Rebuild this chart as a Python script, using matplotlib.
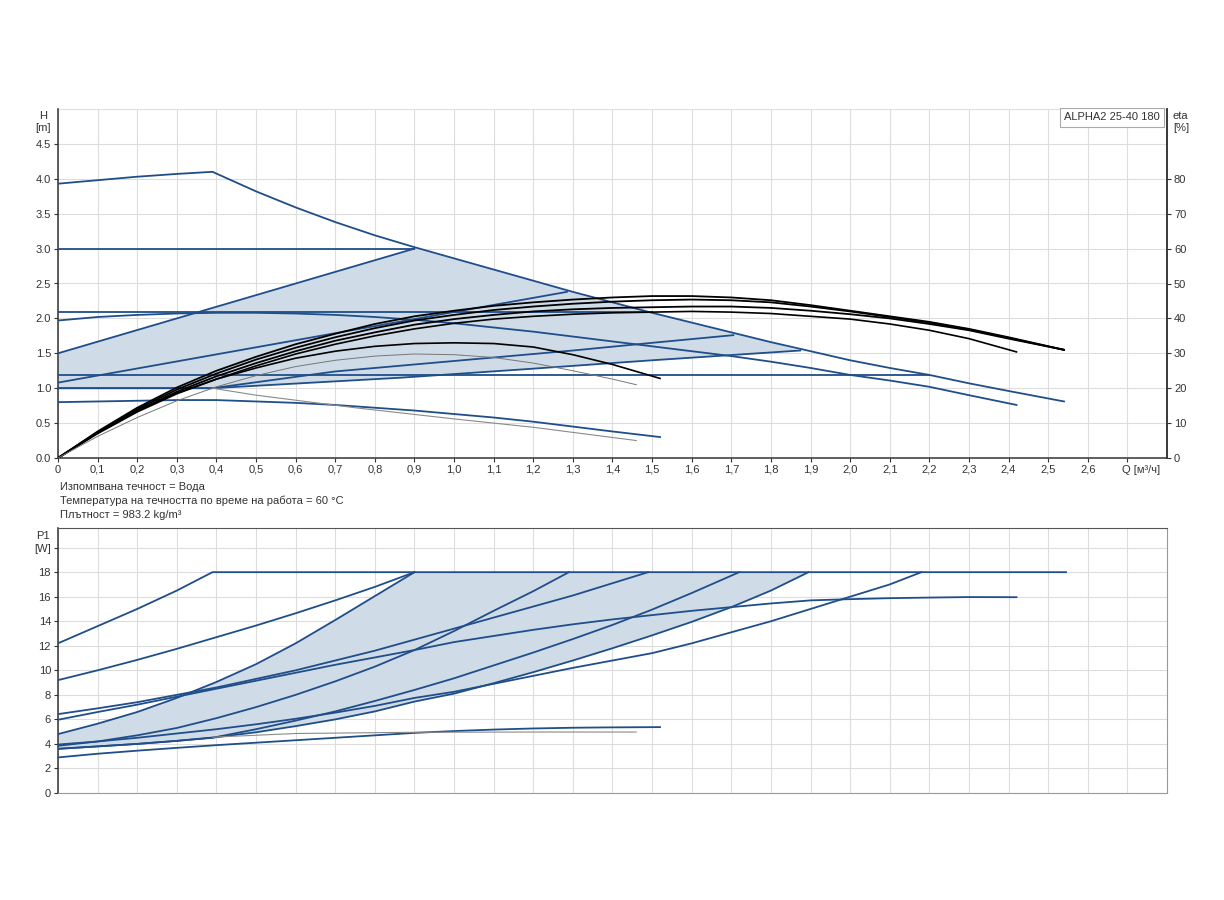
import numpy as np
import matplotlib
matplotlib.use("Agg")
from matplotlib import pyplot as plt

plt.rcParams['font.family'] = ['Liberation Sans', 'DejaVu Sans']
plt.rcParams['font.size'] = 8

BLUE = '#1f4e8a'
FILL = '#cfdbe7'
GRID = '#dddddd'

# --- H(Q) curves, Q in m3/h, H in m ---
q_max = [0, 0.1, 0.2, 0.3, 0.39, 0.5, 0.6, 0.7, 0.8, 0.9, 1.0, 1.1, 1.2, 1.3, 1.4,
         1.5, 1.6, 1.7, 1.8, 1.9, 2.0, 2.1, 2.2, 2.3, 2.4, 2.54]
h_max = [3.93, 3.98, 4.03, 4.07, 4.1, 3.82, 3.59, 3.38, 3.19, 3.02, 2.86, 2.70, 2.54, 2.38, 2.23,
         2.08, 1.94, 1.80, 1.66, 1.53, 1.40, 1.29, 1.19, 1.07, 0.96, 0.81]

q_spd2 = [0, 0.1, 0.2, 0.3, 0.4, 0.5, 0.6, 0.7, 0.8, 0.9, 1.0, 1.1, 1.2, 1.3, 1.4, 1.5,
          1.6, 1.7, 1.8, 1.9, 2.0, 2.1, 2.2, 2.3, 2.42]
h_spd2 = [1.97, 2.02, 2.05, 2.07, 2.08, 2.08, 2.07, 2.05, 2.02, 1.98, 1.93, 1.87, 1.81, 1.74,
          1.67, 1.60, 1.53, 1.46, 1.38, 1.29, 1.19, 1.11, 1.02, 0.90, 0.76]

q_spd1 = [0, 0.1, 0.2, 0.3, 0.4, 0.5, 0.6, 0.7, 0.8, 0.9, 1.0, 1.1, 1.2, 1.3, 1.4, 1.52]
h_spd1 = [0.80, 0.81, 0.82, 0.83, 0.83, 0.81, 0.79, 0.76, 0.72, 0.68, 0.63, 0.58, 0.52,
          0.45, 0.38, 0.30]

q_cp3, h_cp3 = [0, 0.9], [2.99, 2.99]
q_cp2, h_cp2 = [0, 1.5], [2.09, 2.09]
q_cp1, h_cp1 = [0, 2.2], [1.19, 1.19]
q_pp3, h_pp3 = [0, 0.9], [1.5, 3.0]
q_pp2, h_pp2 = [0, 1.285], [1.08, 2.38]
q_pp1 = [0, 0.39, 0.7, 1.0, 1.3, 1.5, 1.705]
h_pp1 = [1.0, 1.0, 1.24, 1.39, 1.54, 1.65, 1.76]
q_aa = [0, 0.39, 0.864, 1.2, 1.5, 1.874]
h_aa = [1.0, 1.0, 1.15, 1.28, 1.40, 1.54]
q_night = [0.39, 0.5, 0.75, 1.0, 1.2, 1.46]
h_night = [1.0, 0.9, 0.72, 0.56, 0.44, 0.25]

# --- efficiency curves, drawn in H units (eta = 20 * H) ---
q_eta = [0, 0.1, 0.2, 0.3, 0.4, 0.5, 0.6, 0.7, 0.8, 0.9, 1.0, 1.1, 1.2, 1.3, 1.4, 1.5,
         1.6, 1.7, 1.8, 1.9, 2.0, 2.1, 2.2, 2.3, 2.4, 2.54]
eta_a = [0, 0.38, 0.72, 1.01, 1.25, 1.45, 1.63, 1.78, 1.92, 2.03, 2.11, 2.18, 2.23, 2.27, 2.30,
         2.32, 2.32, 2.30, 2.26, 2.19, 2.11, 2.03, 1.95, 1.85, 1.73, 1.55]
eta_b = [0, 0.37, 0.70, 0.98, 1.21, 1.41, 1.58, 1.73, 1.86, 1.97, 2.05, 2.12, 2.17, 2.21, 2.24,
         2.26, 2.27, 2.26, 2.23, 2.17, 2.10, 2.02, 1.94, 1.84, 1.72, 1.55]
eta_c = [0, 0.36, 0.68, 0.95, 1.17, 1.36, 1.53, 1.68, 1.80, 1.91, 1.99, 2.05, 2.10, 2.13, 2.15,
         2.16, 2.17, 2.17, 2.15, 2.11, 2.06, 2.00, 1.92, 1.83, 1.71, 1.55]
q_eta_d = [0, 0.1, 0.2, 0.3, 0.4, 0.5, 0.6, 0.7, 0.8, 0.9, 1.0, 1.1, 1.2, 1.3, 1.4, 1.5,
           1.6, 1.7, 1.8, 1.9, 2.0, 2.1, 2.2, 2.3, 2.42]
eta_d = [0, 0.35, 0.66, 0.92, 1.13, 1.32, 1.49, 1.63, 1.75, 1.85, 1.93, 1.99, 2.03, 2.06, 2.08,
         2.09, 2.10, 2.09, 2.07, 2.03, 1.99, 1.92, 1.83, 1.71, 1.52]
q_eta_e = [0, 0.1, 0.2, 0.3, 0.4, 0.5, 0.6, 0.7, 0.8, 0.9, 1.0, 1.1, 1.2, 1.3, 1.4, 1.52]
eta_e = [0, 0.36, 0.67, 0.93, 1.13, 1.29, 1.43, 1.53, 1.60, 1.64, 1.65, 1.64, 1.59, 1.48, 1.34, 1.14]
q_eta_f = [0, 0.1, 0.2, 0.3, 0.4, 0.5, 0.6, 0.7, 0.8, 0.9, 1.0, 1.1, 1.2, 1.3, 1.4, 1.46]
eta_f = [0, 0.31, 0.58, 0.82, 1.02, 1.18, 1.31, 1.40, 1.46, 1.49, 1.48, 1.44, 1.36, 1.25, 1.13, 1.05]

# --- P1(Q) curves, W ---
q_p_max = [0, 0.1, 0.2, 0.3, 0.39, 2.545]
p_max = [12.2, 13.6, 15.0, 16.5, 18.0, 18.0]
q_p_cp3 = [0, 0.1, 0.2, 0.3, 0.4, 0.5, 0.6, 0.7, 0.8, 0.9]
p_cp3 = [9.2, 10.0, 10.85, 11.75, 12.7, 13.65, 14.65, 15.7, 16.8, 18.0]
p_pp3 = [4.8, 5.65, 6.6, 7.75, 9.05, 10.5, 12.2, 14.1, 16.05, 18.0]
q_p_cp2 = [0, 0.1, 0.2, 0.3, 0.4, 0.5, 0.6, 0.7, 0.8, 0.9, 1.0, 1.1, 1.2, 1.3, 1.4, 1.49]
p_cp2 = [6.43, 6.9, 7.4, 8.0, 8.6, 9.3, 10.0, 10.8, 11.6, 12.5, 13.4, 14.3, 15.2, 16.1, 17.1, 18.0]
p_spd2 = [5.97, 6.6, 7.2, 7.85, 8.5, 9.15, 9.8, 10.45, 11.05, 11.65, 12.3, 12.8, 13.3, 13.75,
          14.15, 14.5, 14.85, 15.15, 15.45, 15.7, 15.8, 15.88, 15.93, 15.97, 15.96]
q_p_pp2 = [0, 0.1, 0.2, 0.3, 0.4, 0.5, 0.6, 0.7, 0.8, 0.9, 1.0, 1.1, 1.2, 1.29]
p_pp2 = [3.85, 4.2, 4.7, 5.3, 6.1, 7.0, 8.0, 9.1, 10.3, 11.65, 13.2, 14.85, 16.45, 18.0]
q_p_pp1 = [0, 0.1, 0.2, 0.3, 0.39, 0.5, 0.6, 0.7, 0.8, 0.9, 1.0, 1.1, 1.2, 1.3, 1.4, 1.5, 1.6, 1.72]
p_pp1 = [3.6, 3.8, 4.0, 4.25, 4.5, 5.2, 5.9, 6.65, 7.5, 8.4, 9.35, 10.4, 11.45, 12.55, 13.7,
         14.95, 16.3, 18.0]
q_p_aa = [0, 0.1, 0.2, 0.3, 0.4, 0.5, 0.6, 0.7, 0.8, 0.9, 1.0, 1.1, 1.2, 1.3, 1.4, 1.5, 1.6,
          1.7, 1.8, 1.895]
p_aa = [3.6, 3.8, 4.0, 4.25, 4.55, 4.95, 5.45, 6.0, 6.65, 7.45, 8.1, 8.95, 9.85, 10.8, 11.8,
        12.85, 13.95, 15.15, 16.5, 18.0]
q_p_cp1 = [0, 0.1, 0.2, 0.3, 0.4, 0.5, 0.6, 0.7, 0.8, 0.9, 1.0, 1.1, 1.2, 1.3, 1.4, 1.5, 1.6,
           1.7, 1.8, 1.9, 2.0, 2.1, 2.18]
p_cp1 = [3.95, 4.2, 4.5, 4.85, 5.2, 5.6, 6.05, 6.55, 7.1, 7.75, 8.25, 8.9, 9.55, 10.2, 10.8,
         11.4, 12.2, 13.1, 14.0, 15.0, 16.0, 17.0, 18.0]
p_spd1 = [2.9, 3.2, 3.45, 3.68, 3.9, 4.1, 4.3, 4.5, 4.7, 4.9, 5.05, 5.17, 5.26, 5.32, 5.35, 5.37]
q_p_night = [0.39, 0.6, 0.9, 1.2, 1.46]
p_night = [4.55, 4.85, 4.95, 4.97, 4.97]

fig = plt.figure(figsize=(12.24, 9), dpi=100)
ax = fig.add_axes([58 / 1224, 1 - 458 / 900, 1109 / 1224, 349 / 900])
ax2 = fig.add_axes([58 / 1224, 1 - 793 / 900, 1109 / 1224, 265 / 900])

# ---------- top chart ----------
sel = [i for i, q in enumerate(q_max) if 0.9 < q < 1.874]
poly_q = q_pp3 + [q_max[i] for i in sel] + q_aa[::-1]
poly_h = h_pp3 + [h_max[i] for i in sel] + h_aa[::-1]
ax.fill(poly_q, poly_h, color=FILL, lw=0, zorder=1)

blue_lines = [(q_max, h_max), (q_spd2, h_spd2), (q_spd1, h_spd1), (q_cp3, h_cp3),
              (q_cp2, h_cp2), (q_cp1, h_cp1), (q_pp3, h_pp3), (q_pp2, h_pp2),
              (q_pp1, h_pp1), (q_aa, h_aa)]
for qq, hh in blue_lines:
    ax.plot(qq, hh, color=BLUE, lw=1.3, zorder=3)
ax.plot(q_night, h_night, color='#8a8a8a', lw=0.8, zorder=3)

for hh in [eta_a, eta_b, eta_c]:
    ax.plot(q_eta, hh, color='black', lw=1.3, zorder=4)
ax.plot(q_eta_d, eta_d, color='black', lw=1.2, zorder=4)
ax.plot(q_eta_e, eta_e, color='black', lw=1.2, zorder=4)
ax.plot(q_eta_f, eta_f, color='#777777', lw=0.7, zorder=4)

ax.set_xlim(0, 2.8)
ax.set_ylim(0, 5.0)
xt = np.round(np.arange(0, 2.71, 0.1), 1)
ax.set_xticks(xt)
ax.set_xticklabels(['0'] + [('%.1f' % v).replace('.', ',') for v in xt[1:-1]] + [''])
ax.set_yticks(np.arange(0, 4.51, 0.5))
ax.set_yticklabels(['%.1f' % v for v in np.arange(0, 4.51, 0.5)])
ax.grid(True, color=GRID, lw=0.8, zorder=0)
ax.axhline(5.0, color=GRID, lw=0.8, zorder=0)
ax.set_axisbelow(True)
for s in ['left', 'bottom', 'right']:
    ax.spines[s].set_color('#333333')
    ax.spines[s].set_linewidth(1.1)
ax.spines['top'].set_visible(False)
ax.tick_params(length=3, color='#333333', labelcolor='#333333', pad=2)

axr = ax.twinx()
axr.set_ylim(0, 100)
axr.set_yticks(np.arange(0, 81, 10))
axr.tick_params(length=3, color='#333333', labelcolor='#333333', pad=2)
for s in ['left', 'top', 'bottom']:
    axr.spines[s].set_visible(False)
axr.spines['right'].set_color('#333333')
axr.spines['right'].set_linewidth(1.1)

ax.text(0.9935, 0.99, 'ALPHA2 25-40 180', transform=ax.transAxes, ha='right', va='top',
        color='#333333', fontsize=8, zorder=6,
        bbox=dict(boxstyle='square,pad=0.4', fc='white', ec='#aaaaaa', lw=0.8))

fig.text(43 / 1224, 1 - 116 / 900, 'H', ha='center', va='center', color='#333333')
fig.text(43 / 1224, 1 - 128 / 900, '[m]', ha='center', va='center', color='#333333')
fig.text(1180 / 1224, 1 - 116 / 900, 'eta', ha='center', va='center', color='#333333')
fig.text(1181 / 1224, 1 - 128 / 900, '[%]', ha='center', va='center', color='#333333')
fig.text(1141 / 1224, 1 - 470 / 900, 'Q [м³/ч]', ha='center', va='center', color='#333333')

fig.text(60 / 1224, 1 - 487 / 900, 'Изпомпвана течност = Вода', va='center', color='#333333')
fig.text(60 / 1224, 1 - 501 / 900, 'Температура на течността по време на работа = 60 °C',
         va='center', color='#333333')
fig.text(60 / 1224, 1 - 515 / 900, 'Плътност = 983.2 kg/m³', va='center', color='#333333')

# ---------- bottom chart ----------
ax2.fill(q_p_cp3 + q_p_aa[::-1], p_pp3 + p_aa[::-1], color=FILL, lw=0, zorder=1)

p_lines = [(q_p_max, p_max), (q_p_cp3, p_cp3), (q_p_cp3, p_pp3), (q_p_cp2, p_cp2),
           (q_spd2, p_spd2), (q_p_pp2, p_pp2), (q_p_pp1, p_pp1), (q_p_aa, p_aa),
           (q_p_cp1, p_cp1), (q_spd1, p_spd1)]
for qq, pp in p_lines:
    ax2.plot(qq, pp, color=BLUE, lw=1.3, zorder=3)
ax2.plot(q_p_night, p_night, color='#8a8a8a', lw=0.8, zorder=3)

ax2.set_xlim(0, 2.8)
ax2.set_ylim(0, 21.6)
ax2.set_xticks(xt)
ax2.set_xticklabels([])
ax2.set_yticks(np.arange(0, 20.1, 2))
ax2.set_yticklabels([str(v) for v in range(0, 19, 2)] + ['[W]'])
ax2.grid(True, color=GRID, lw=0.8, zorder=0)
ax2.set_axisbelow(True)
ax2.spines['left'].set_color('#333333')
ax2.spines['left'].set_linewidth(1.1)
ax2.spines['top'].set_color('#555555')
ax2.spines['right'].set_color('#999999')
ax2.spines['bottom'].set_color('#999999')
ax2.tick_params(axis='x', length=0)
ax2.tick_params(axis='y', length=3, color='#333333', labelcolor='#333333', pad=2)
fig.text(43 / 1224, 1 - 536 / 900, 'P1', ha='center', va='center', color='#333333')

fig.savefig('out.png', dpi=100, facecolor='white')
